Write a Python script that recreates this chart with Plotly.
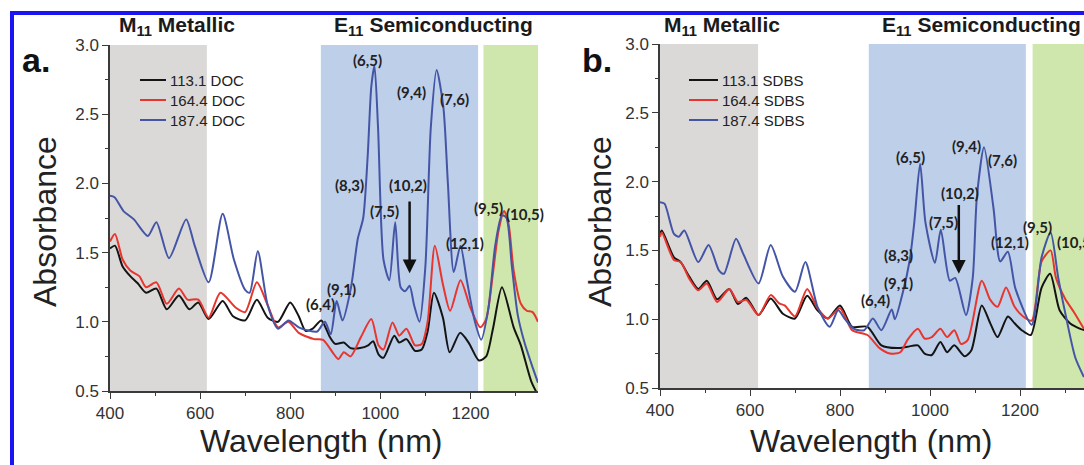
import plotly.graph_objects as go

# ---------------- data: panel a (DOC) ----------------
a_black_wl = [400, 411, 428, 445, 461, 480, 503, 526, 553, 576, 596, 619, 650, 673, 700, 726, 750, 773, 800, 819, 834, 850, 869, 888, 900, 919, 934, 955, 973, 984, 996, 1007, 1031, 1042, 1058, 1077, 1092, 1105, 1119, 1139, 1154, 1177, 1196, 1219, 1235, 1250, 1270, 1296, 1312, 1335, 1350]
a_black = [1.53, 1.55, 1.40, 1.33, 1.28, 1.21, 1.24, 1.09, 1.19, 1.09, 1.14, 1.02, 1.15, 1.04, 1.01, 1.16, 1.03, 1.00, 1.14, 1.04, 0.935, 0.95, 1.01, 0.89, 0.84, 0.85, 0.81, 0.81, 0.83, 0.86, 0.765, 0.74, 0.90, 0.85, 0.875, 0.79, 0.80, 0.93, 1.21, 1.03, 0.78, 0.92, 0.85, 0.72, 0.75, 0.95, 1.25, 0.96, 0.83, 0.57, 0.47]

a_red_wl = [400, 411, 428, 445, 465, 480, 503, 526, 553, 572, 596, 619, 645, 680, 700, 726, 750, 773, 796, 819, 853, 873, 896, 907, 919, 934, 957, 980, 996, 1007, 1027, 1042, 1058, 1077, 1092, 1105, 1121, 1139, 1155, 1178, 1200, 1222, 1235, 1250, 1262, 1275, 1285, 1296, 1312, 1325, 1338, 1350]
a_red = [1.58, 1.635, 1.45, 1.37, 1.33, 1.25, 1.285, 1.13, 1.24, 1.16, 1.16, 1.03, 1.21, 1.10, 1.07, 1.285, 1.12, 0.96, 1.0, 0.92, 0.875, 0.87, 0.77, 0.73, 0.78, 0.75, 0.89, 1.02, 0.83, 0.80, 0.995, 0.90, 0.95, 0.83, 0.84, 1.0, 1.55, 1.27, 1.08, 1.30, 1.10, 0.96, 1.02, 1.35, 1.65, 1.80, 1.70, 1.37, 1.13, 1.08, 1.07, 1.00]

a_blue_wl = [400, 410, 430, 453, 484, 503, 531, 569, 588, 619, 650, 675, 700, 710, 728, 750, 773, 796, 819, 842, 860, 877, 890, 903, 916, 935, 950, 962, 972, 980, 987, 995, 1007, 1020, 1033, 1045, 1055, 1065, 1075, 1087, 1100, 1112, 1125, 1140, 1150, 1163, 1178, 1192, 1210, 1224, 1240, 1255, 1270, 1280, 1292, 1305, 1320, 1335, 1350]
a_blue = [1.91, 1.90, 1.80, 1.74, 1.62, 1.72, 1.46, 1.74, 1.55, 1.285, 1.78, 1.45, 1.23, 1.21, 1.51, 1.12, 0.95, 1.01, 0.96, 0.935, 0.93, 1.0, 0.91, 1.15, 1.01, 1.25, 1.60, 1.75, 2.20, 2.70, 2.85, 2.40, 1.45, 1.30, 1.72, 1.25, 1.22, 1.26, 1.12, 1.0, 1.40, 2.40, 2.82, 2.55, 2.00, 1.36, 1.55, 1.30, 1.00, 0.87, 1.10, 1.55, 1.77, 1.75, 1.40, 1.05, 0.85, 0.70, 0.56]

# ---------------- data: panel b (SDBS) ----------------
b_black_wl = [400, 404, 431, 446, 465, 485, 504, 527, 554, 573, 592, 619, 646, 673, 700, 727, 750, 773, 800, 827, 861, 892, 927, 950, 973, 988, 1004, 1023, 1038, 1054, 1077, 1092, 1115, 1134, 1150, 1173, 1188, 1204, 1224, 1248, 1267, 1288, 1311, 1334, 1345]
b_black = [1.62, 1.645, 1.45, 1.415, 1.31, 1.22, 1.28, 1.145, 1.22, 1.11, 1.155, 1.03, 1.15, 1.04, 1.005, 1.17, 1.065, 1.005, 1.10, 0.945, 0.945, 0.81, 0.79, 0.80, 0.81, 0.75, 0.74, 0.835, 0.76, 0.81, 0.73, 0.775, 1.10, 0.97, 0.87, 1.02, 0.97, 0.92, 0.885, 1.23, 1.33, 1.065, 0.97, 0.93, 0.92]

b_red_wl = [400, 404, 431, 446, 465, 485, 504, 527, 554, 573, 592, 619, 646, 665, 677, 700, 727, 750, 773, 800, 827, 861, 888, 911, 934, 950, 973, 988, 1004, 1023, 1038, 1054, 1069, 1084, 1115, 1134, 1150, 1169, 1188, 1207, 1226, 1248, 1268, 1280, 1300, 1320, 1342]
b_red = [1.60, 1.63, 1.43, 1.415, 1.295, 1.21, 1.26, 1.125, 1.22, 1.125, 1.14, 1.03, 1.175, 1.115, 1.10, 1.02, 1.22, 1.08, 1.005, 1.08, 0.92, 0.885, 0.79, 0.75, 0.76, 0.85, 0.93, 0.86, 0.87, 0.93, 0.87, 0.92, 0.82, 0.85, 1.28, 1.14, 1.09, 1.23, 1.09, 1.02, 0.99, 1.42, 1.50, 1.30, 1.15, 1.05, 0.93]

b_blue_wl = [400, 410, 431, 442, 454, 485, 508, 531, 542, 569, 585, 619, 646, 673, 700, 723, 750, 777, 796, 811, 831, 854, 873, 892, 915, 922, 940, 955, 965, 978, 990, 1011, 1024, 1044, 1056, 1080, 1095, 1104, 1120, 1141, 1156, 1173, 1190, 1226, 1248, 1268, 1285, 1304, 1323, 1342]
b_blue = [1.85, 1.84, 1.62, 1.60, 1.645, 1.415, 1.54, 1.355, 1.33, 1.585, 1.475, 1.26, 1.54, 1.31, 1.20, 1.415, 1.09, 0.945, 1.065, 1.0, 0.93, 0.92, 1.005, 0.92, 1.07, 1.0, 1.2, 1.43, 1.7, 2.13, 1.7, 1.41, 1.65, 1.28, 1.30, 1.03, 1.3, 1.88, 2.25, 1.81, 1.42, 1.49, 1.22, 0.96, 1.45, 1.63, 1.3, 0.99, 0.72, 0.58]

series_names_a = ["113.1 DOC", "164.4 DOC", "187.4 DOC"]
series_names_b = ["113.1 SDBS", "164.4 SDBS", "187.4 SDBS"]
colors = ["#141414", "#e8352e", "#4455a6"]

# shaded bands (start, end) in nm
bands_a = [(400, 615), (868, 1217), (1229, 1350)]
bands_b = [(400, 618), (864, 1213), (1228, 1350)]
band_colors = ["rgba(218,217,216,1)", "rgba(190,207,234,1)", "rgba(207,230,172,1)"]

# chirality labels (text, wavelength, absorbance)
labels_a = [("(6,5)", 971, 2.89), ("(9,4)", 1069, 2.66), ("(7,6)", 1164, 2.61), ("(8,3)", 931, 1.99),
            ("(10,2)", 1061, 1.99), ("(7,5)", 1009, 1.80), ("(9,1)", 913, 1.24), ("(6,4)", 867, 1.13),
            ("(12,1)", 1187, 1.57), ("(9,5)", 1240, 1.82), ("(10,5)", 1322, 1.78)]
labels_b = [("(6,5)", 956, 2.18), ("(9,4)", 1082, 2.26), ("(7,6)", 1162, 2.16), ("(10,2)", 1067, 1.92),
            ("(7,5)", 1029, 1.71), ("(8,3)", 929, 1.47), ("(9,1)", 929, 1.26), ("(6,4)", 878, 1.14),
            ("(12,1)", 1178, 1.56), ("(9,5)", 1238, 1.67), ("(10,5)", 1324, 1.56)]
arrow_a = (1065, 1.88, 1.35)
arrow_b = (1064, 1.84, 1.33)

W, H = 1084, 465
fig = go.Figure()

data_a = [(a_black_wl, a_black), (a_red_wl, a_red), (a_blue_wl, a_blue)]
data_b = [(b_black_wl, b_black), (b_red_wl, b_red), (b_blue_wl, b_blue)]
for (wl, v), name, c in zip(data_a, series_names_a, colors):
    fig.add_trace(go.Scatter(x=wl, y=v, name=name, mode="lines", showlegend=False,
                             line=dict(color=c, width=2, shape="spline", smoothing=0.7),
                             xaxis="x", yaxis="y"))
for (wl, v), name, c in zip(data_b, series_names_b, colors):
    fig.add_trace(go.Scatter(x=wl, y=v, name=name, mode="lines", showlegend=False,
                             line=dict(color=c, width=2, shape="spline", smoothing=0.7),
                             xaxis="x2", yaxis="y2"))

shapes = []
for (x0, x1), fc in zip(bands_a, band_colors):
    shapes.append(dict(type="rect", xref="x", yref="y domain", x0=x0, x1=x1, y0=0, y1=1,
                       fillcolor=fc, line=dict(width=0), layer="below"))
for (x0, x1), fc in zip(bands_b, band_colors):
    shapes.append(dict(type="rect", xref="x2", yref="y2 domain", x0=x0, x1=x1, y0=0, y1=1,
                       fillcolor=fc, line=dict(width=0), layer="below"))
# blue frame
shapes.append(dict(type="rect", xref="paper", yref="paper", x0=12 / W, x1=1.02, y0=-0.02, y1=1 - 13 / H,
                   line=dict(color="#1a14f5", width=4), fillcolor="rgba(0,0,0,0)", layer="above"))

TICKC = "#3a3a3a"
FONT = "Liberation Sans, Arial, sans-serif"
tickfont = dict(family=FONT, size=17, color="#333333")

def xax(domain, rng, **kw):
    d = dict(domain=domain, range=rng, tick0=400, dtick=200, ticks="outside", ticklen=6, tickwidth=1.3,
             tickcolor=TICKC, showline=True, linecolor=TICKC, linewidth=1.5, showgrid=False,
             zeroline=False, tickfont=tickfont, automargin=False,
             minor=dict(ticks="outside", ticklen=3, dtick=100, tick0=400, tickcolor=TICKC, tickwidth=1.3))
    d.update(kw)
    return d

def yax(domain, **kw):
    d = dict(domain=domain, range=[0.5, 3.0], tick0=0.5, dtick=0.5, tickformat=".1f", ticks="outside",
             ticklen=6, tickwidth=1.3, tickcolor=TICKC, showline=True, linecolor=TICKC, linewidth=1.5,
             showgrid=False, zeroline=False, tickfont=tickfont, automargin=False,
             minor=dict(ticks="outside", ticklen=3, dtick=0.25, tick0=0.5, tickcolor=TICKC, tickwidth=1.3))
    d.update(kw)
    return d

xa_dom = [110 / W, 538 / W]
xb_dom = [660 / W, 1.0]
xb_range = [400, 400 + (W - 660) / 0.45]
ya_dom = [1 - 391 / H, 1 - 45 / H]
yb_dom = [1 - 388 / H, 1 - 44 / H]

inner = dict(ticks="inside", showticklabels=False, ticklen=6)

fig.update_layout(
    width=W, height=H, margin=dict(l=0, r=0, t=0, b=0, autoexpand=False),
    paper_bgcolor="white", plot_bgcolor="rgba(0,0,0,0)",
    xaxis=xax(xa_dom, [400, 1350], anchor="y"),
    yaxis=yax(ya_dom, anchor="x"),
    xaxis2=xax(xb_dom, xb_range, anchor="y2"),
    yaxis2=yax(yb_dom, anchor="x2"),
    xaxis3=xax(xa_dom, [400, 1350], anchor="y", overlaying="x", side="top",
               minor=dict(ticks="inside", ticklen=3, dtick=100, tick0=400, tickcolor=TICKC), **inner),
    yaxis3=yax(ya_dom, anchor="x", overlaying="y", side="right",
               minor=dict(ticks="inside", ticklen=3, dtick=0.25, tick0=0.5, tickcolor=TICKC), **inner),
    xaxis4=xax(xb_dom, xb_range, anchor="y2", overlaying="x2", side="top",
               minor=dict(ticks="inside", ticklen=3, dtick=100, tick0=400, tickcolor=TICKC), **inner),
    showlegend=False,
)

ann = []
# manual legends (line sample + text)
leg_font = dict(family=FONT, size=15, color="#222")
for names, lx0, lx1, rows in [(series_names_a, 140, 166, [80, 100, 120]),
                              (series_names_b, 689, 718, [80, 100, 120])]:
    for name, c, ry in zip(names, colors, rows):
        shapes.append(dict(type="line", xref="paper", yref="paper", x0=lx0 / W, x1=lx1 / W,
                           y0=1 - ry / H, y1=1 - ry / H, line=dict(color=c, width=2)))
        ann.append(dict(text=name, x=(lx1 + 2) / W, y=1 - ry / H, xref="paper", yref="paper",
                        showarrow=False, xanchor="left", yanchor="middle", font=leg_font))

lab_font = dict(family="Lato, sans-serif", size=15, color="#222")
for t, x, y in labels_a:
    ann.append(dict(text="<b>%s</b>" % t, x=x, y=y, xref="x", yref="y", showarrow=False, font=lab_font))
for t, x, y in labels_b:
    ann.append(dict(text="<b>%s</b>" % t, x=x, y=y, xref="x2", yref="y2", showarrow=False, font=lab_font))
for (x, y0, y1), xr, yr in [(arrow_a, "x", "y"), (arrow_b, "x2", "y2")]:
    ann.append(dict(text="", x=x, y=y1, ax=x, ay=y0, xref=xr, yref=yr, axref=xr, ayref=yr,
                    showarrow=True, arrowhead=2, arrowsize=1.1, arrowwidth=2.5, arrowcolor="#111"))

head_font = dict(family=FONT, size=21, color="#1a1a1a")
for txt, cx in [("<b>M<sub>11</sub> Metallic</b>", 177), ("<b>E<sub>11</sub> Semiconducting</b>", 433),
                ("<b>M<sub>11</sub> Metallic</b>", 722), ("<b>E<sub>11</sub> Semiconducting</b>", 981)]:
    ann.append(dict(text=txt, x=cx / W, y=1 - 26 / H, xref="paper", yref="paper", showarrow=False,
                    font=head_font, xanchor="center", yanchor="middle"))
for txt, cx in [("<b>a.</b>", 36), ("<b>b.</b>", 597)]:
    ann.append(dict(text=txt, x=cx / W, y=1 - 60 / H, xref="paper", yref="paper", showarrow=False,
                    font=dict(family=FONT, size=34, color="#111"), xanchor="center", yanchor="middle"))
title_font = dict(family=FONT, size=32, color="#222")
for cx in [45, 600]:
    ann.append(dict(text="Absorbance", x=cx / W, y=1 - 222 / H, xref="paper", yref="paper", showarrow=False,
                    font=title_font, textangle=-90, xanchor="center", yanchor="middle"))
for cx in [321, 871]:
    ann.append(dict(text="Wavelength (nm)", x=cx / W, y=1 - 441 / H, xref="paper", yref="paper",
                    showarrow=False, font=title_font, xanchor="center", yanchor="middle"))
fig.update_layout(annotations=ann, shapes=shapes)

fig.write_html("out.html")
